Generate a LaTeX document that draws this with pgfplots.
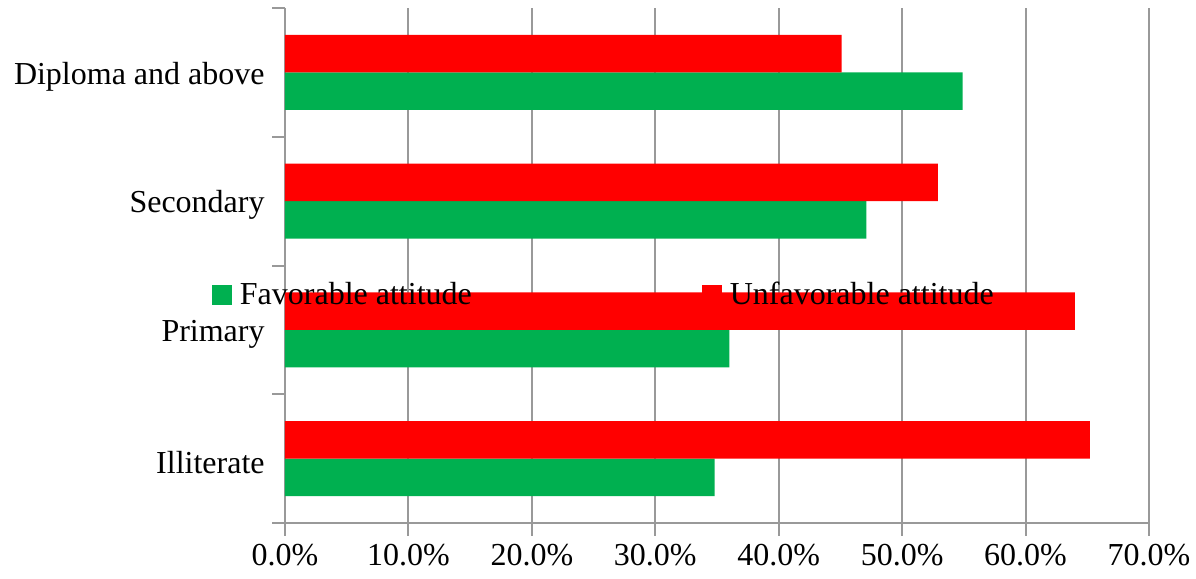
\documentclass[border=0pt]{standalone}
\usepackage{fontspec}
\setmainfont{Liberation Serif}
\usepackage{pgfplots}
\pgfplotsset{compat=1.18}
\definecolor{fav}{HTML}{00B050}
\definecolor{unf}{HTML}{FF0000}
\definecolor{gridgray}{HTML}{999999}
\begin{document}
\begin{tikzpicture}
\begin{axis}[
  scale only axis,
  width=432pt, height=257.5pt,
  xbar,
  bar width=18.75pt,
  xmin=0, xmax=70,
  ymin=-0.5, ymax=3.5,
  axis x line*=bottom,
  axis y line*=left,
  axis line style={gridgray, line width=1pt, -},
  xtick={0,10,...,70},
  xticklabels={0.0\%,10.0\%,20.0\%,30.0\%,40.0\%,50.0\%,60.0\%,70.0\%},
  xmajorgrids,
  major grid style={gridgray, line width=1pt},
  tick style={gridgray, line width=1pt},
  major tick length=6.25pt,
  tick align=outside,
  ytick={-0.5,0.5,1.5,2.5,3.5},
  yticklabels={},
  extra y ticks={0,1,2,3},
  extra y tick labels={Illiterate,Primary,Secondary,Diploma and above},
  extra y tick style={grid=none, major tick length=0pt,
    yticklabel style={inner sep=0pt, xshift=-10pt, yshift=-2pt}},
  ticklabel style={font=\fontsize{16}{19}\selectfont, text=black},
  xticklabel style={inner sep=0pt, yshift=-4pt},
  legend columns=2,
  legend style={
    at={(-0.085,0.443)}, anchor=west,
    draw=none, fill=none, inner sep=0pt,
    font=\fontsize{16}{19}\selectfont,
    /tikz/every even column/.append style={column sep=113pt},
  },
  legend image code/.code={\fill[#1] (0pt,-5pt) rectangle (10pt,5pt); \path (12pt,0pt);},
]
\addplot[fill=fav, draw=none, bar shift=-9.375pt] coordinates {(34.8,0) (36.0,1) (47.1,2) (54.9,3)};
\addlegendentry{Favorable attitude}
\addplot[fill=unf, draw=none, bar shift=9.375pt] coordinates {(65.2,0) (64.0,1) (52.9,2) (45.1,3)};
\addlegendentry{Unfavorable attitude}
\coordinate (O) at (rel axis cs:0,0);
\end{axis}
\pgfresetboundingbox
\path ([shift={(-142.5pt,-28pt)}]O) rectangle ([shift={(455.5pt,261.5pt)}]O);
\end{tikzpicture}
\end{document}
